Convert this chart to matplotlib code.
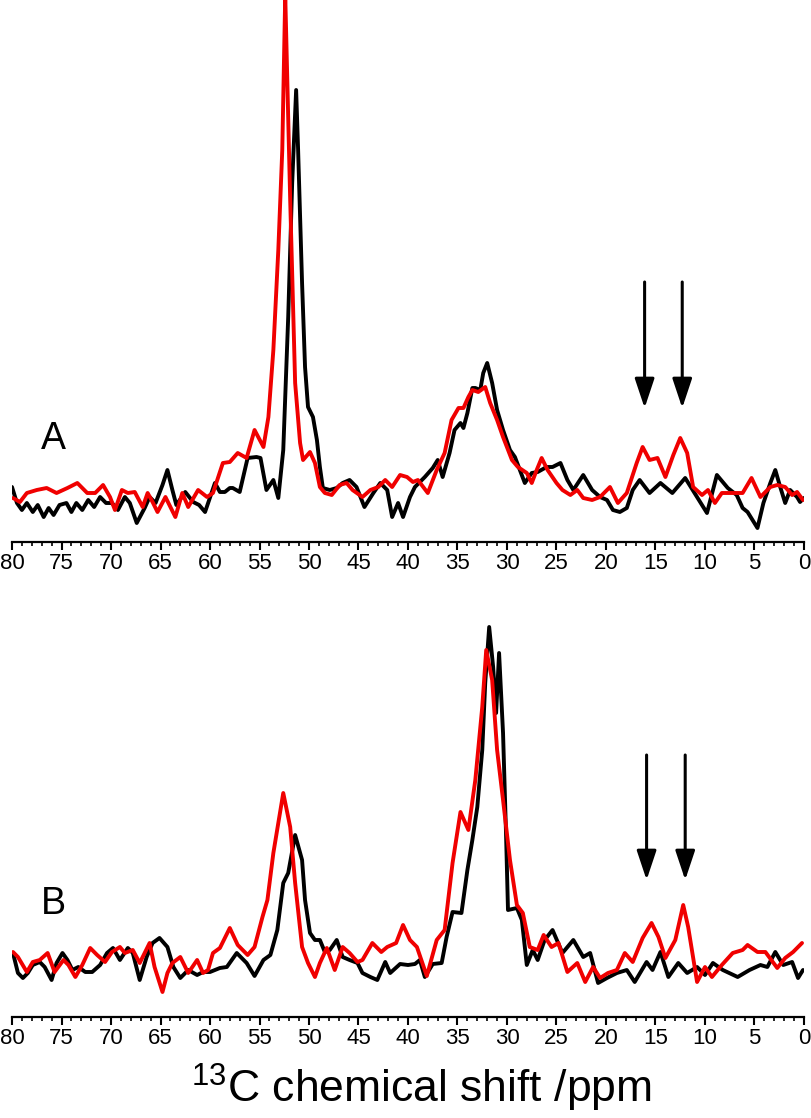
import matplotlib
matplotlib.use('Agg')
import matplotlib.pyplot as plt
from matplotlib.ticker import MultipleLocator
from matplotlib.patches import ArrowStyle

plt.rcParams['font.family'] = ['Liberation Sans', 'DejaVu Sans']
plt.rcParams['mathtext.fontset'] = 'custom'
plt.rcParams['mathtext.rm'] = 'Liberation Sans'
plt.rcParams['mathtext.default'] = 'rm'

# Spectrum A, black trace (ppm, intensity a.u.)
a_black_ppm = [80.0, 79.5, 79.0, 78.5, 77.9, 77.4, 76.8, 76.3, 75.8, 75.2, 74.5, 74.0, 73.5, 72.9,
               72.3, 71.7, 71.1, 70.5, 69.9, 69.3, 68.6, 68.1, 67.4, 66.6, 66.1, 65.5, 64.8, 64.3,
               63.8, 63.4, 62.5, 61.7, 61.1, 60.5, 59.5, 59.0, 58.5, 58.0, 57.7, 57.0, 56.2, 55.3,
               54.9, 54.3, 53.6, 53.1, 52.6, 52.1, 51.7, 51.3, 51.1, 50.7, 50.4, 50.1, 49.6, 49.2,
               48.9, 48.6, 47.9, 47.2, 46.6, 45.9, 45.2, 44.4, 43.5, 42.8, 42.1, 41.6, 41.0, 40.5,
               39.8, 39.3, 38.3, 37.5, 37.0, 36.5, 35.8, 35.3, 34.7, 34.4, 34.0, 33.5, 33.2, 32.7,
               32.4, 32.0, 31.5, 31.0, 30.4, 29.7, 29.2, 28.7, 28.2, 27.5, 26.9, 26.0, 25.4, 24.6,
               23.9, 23.3, 22.3, 21.4, 20.6, 19.9, 19.3, 18.6, 17.9, 17.3, 16.6, 15.6, 14.5, 13.3,
               12.0, 10.8, 9.8, 8.8, 7.7, 6.8, 6.2, 5.7, 4.7, 4.1, 3.4, 2.9, 2.4, 1.9, 1.4, 0.7,
               0.4, 0.0]
a_black_int = [13, -3, -10, -3, -12, -5, -17, -8, -15, -5, -3, -12, -3, -10,
               0, -7, 3, -3, -3, -10, 3, -3, -23, -8, 3, -3, 15, 30,
               10, -5, 8, -2, -5, -12, 17, 8, 8, 12, 12, 8, 42, 43,
               42, 10, 20, 2, 50, 183, 317, 410, 350, 217, 133, 93, 83, 60,
               33, 12, 10, 12, 17, 20, 13, -7, 7, 17, 10, -17, -3, -17,
               3, 13, 23, 32, 40, 23, 47, 70, 77, 72, 87, 112, 112, 110,
               127, 137, 117, 90, 70, 50, 43, 30, 17, 27, 28, 33, 33, 37,
               20, 10, 25, 10, 3, 0, -10, -12, -8, 10, 20, 7, 17, 7,
               22, 3, -13, 25, 12, 5, -8, -12, -28, -3, 17, 30, 13, -3, 10, 3,
               -2, 2]

# Spectrum A, red trace
a_red_ppm = [79.9, 79.2, 78.5, 77.5, 76.5, 75.5, 74.4, 73.4, 72.4, 71.6, 70.8, 70.1, 69.6, 68.9,
             68.3, 67.6, 66.8, 66.3, 65.8, 65.3, 64.5, 63.5, 62.8, 62.2, 61.2, 60.3, 59.7, 58.7,
             58.0, 57.2, 56.3, 55.5, 54.6, 54.1, 53.6, 53.1, 52.7, 52.4, 51.9, 51.4, 50.9, 50.6,
             49.9, 49.4, 48.9, 48.4, 47.7, 46.9, 46.2, 45.6, 44.6, 43.8, 43.0, 42.3, 41.6, 40.8,
             40.1, 39.5, 39.0, 38.0, 37.1, 36.3, 35.6, 34.9, 34.4, 33.9, 33.5, 32.9, 32.2, 31.7,
             31.0, 30.4, 29.5, 28.9, 28.0, 27.5, 27.0, 26.5, 25.9, 25.0, 24.4, 23.6, 22.9, 22.3,
             21.4, 20.6, 19.6, 18.8, 17.9, 16.9, 16.3, 15.6, 14.8, 14.0, 13.2, 12.5, 11.8, 11.2,
             10.3, 9.7, 9.0, 8.3, 7.5, 6.2, 5.3, 4.4, 3.4, 2.7, 1.9, 1.2, 0.7, 0.1]
a_red_int = [2, -2, 7, 10, 12, 7, 12, 17, 7, 7, 15, 3, -10, 10,
             7, 8, -7, 7, -2, -12, 3, -17, 7, -7, 10, 3, 7, 37,
             38, 47, 42, 70, 53, 83, 150, 250, 350, 505, 300, 117, 57, 40,
             48, 37, 13, 7, 5, 15, 17, 10, 3, 10, 13, 20, 13, 25,
             23, 18, 20, 7, 30, 47, 80, 92, 92, 103, 110, 108, 113, 97,
             80, 63, 40, 33, 27, 17, 30, 42, 30, 17, 10, 5, 10, 2,
             0, 3, 13, -3, 7, 37, 53, 40, 42, 23, 45, 62, 47, 13,
             5, 10, -3, 7, 7, 7, 22, 3, 13, 15, 13, 5, 8, 0]

# Spectrum B, black trace
b_black_ppm = [79.9, 79.4, 78.9, 78.4, 77.9, 77.2, 76.7, 76.0, 75.5, 74.9, 74.4, 73.9, 73.3, 72.6,
               71.9, 71.1, 70.4, 69.8, 69.1, 68.3, 67.8, 67.1, 66.4, 65.8, 65.1, 64.3, 63.7, 63.0,
               62.2, 61.3, 60.7, 60.0, 59.0, 58.3, 57.3, 56.3, 55.5, 54.6, 53.9, 53.2, 52.6, 52.1,
               51.4, 50.7, 50.4, 49.9, 49.4, 48.9, 48.4, 47.9, 47.2, 46.6, 45.9, 45.1, 44.6, 43.8,
               43.1, 42.3, 41.8, 40.8, 40.0, 39.3, 38.8, 38.3, 37.5, 36.6, 36.1, 35.5, 34.6, 34.0,
               33.5, 33.0, 32.5, 32.2, 31.8, 31.4, 31.1, 30.8, 30.4, 30.1, 29.9, 29.0, 28.5, 28.0,
               27.4, 26.9, 26.2, 25.4, 24.4, 23.3, 22.3, 21.6, 20.8, 19.9, 18.9, 17.9, 17.1, 15.9,
               15.3, 14.5, 13.7, 12.7, 11.8, 10.8, 10.0, 9.2, 8.2, 6.7, 5.5, 4.4, 3.7, 2.9, 2.1,
               1.2, 0.6, 0.1]
b_black_int = [22, 2, -3, 2, 10, 13, 8, -5, 12, 22, 15, 5, 8, 3,
               3, 10, 22, 27, 15, 27, 22, -5, 18, 32, 37, 28, 8, -3,
               5, 0, 3, 3, 7, 8, 22, 12, -1, 15, 20, 45, 92, 102,
               140, 115, 75, 42, 35, 35, 23, 25, 35, 18, 15, 12, 2, -2,
               -5, 13, 2, 11, 10, 11, 15, -2, 11, 12, 38, 63, 62, 105,
               135, 168, 225, 292, 348, 308, 262, 322, 242, 142, 65, 67, 55, 10,
               25, 15, 35, 45, 22, 35, 18, 22, -8, -3, 2, 5, -7, 13,
               5, 23, -2, 12, 2, 8, 0, 12, 5, -2, 5, 10, 8, 23, 10,
               13, -3, 5]

# Spectrum B, red trace
b_red_ppm = [79.9, 79.4, 78.5, 77.9, 77.2, 76.4, 75.7, 74.8, 74.3, 73.6, 72.9, 72.1, 71.4, 70.6,
             69.9, 69.1, 68.6, 67.8, 67.1, 66.1, 65.6, 64.8, 64.3, 63.8, 63.0, 62.2, 61.3, 60.7,
             60.2, 59.7, 59.0, 58.0, 57.2, 56.2, 55.5, 54.7, 54.2, 53.6, 52.6, 51.9, 51.4, 50.7,
             50.1, 49.4, 48.9, 48.2, 47.4, 46.6, 45.9, 45.1, 44.6, 43.6, 42.7, 42.1, 41.2, 40.5,
             39.8, 39.1, 38.1, 37.1, 36.3, 35.5, 34.7, 33.9, 33.2, 32.5, 32.1, 31.5, 31.0, 30.4,
             29.7, 29.0, 28.4, 27.7, 26.9, 26.3, 25.5, 24.8, 23.9, 22.9, 22.1, 21.3, 20.6, 19.8,
             18.9, 18.1, 17.3, 16.3, 15.4, 14.7, 14.0, 13.0, 12.2, 11.7, 10.8, 10.0, 9.3, 8.3,
             7.2, 6.2, 5.7, 4.7, 3.9, 2.7, 1.9, 1.1, 0.2]
b_red_int = [23, 18, 3, 13, 15, 22, 3, 15, 10, -2, 10, 27, 20, 13,
             23, 28, 22, 25, 12, 32, 8, -17, 2, 12, 18, 2, 15, 2,
             5, 22, 27, 47, 30, 20, 28, 58, 75, 122, 182, 148, 92, 28,
             12, -2, 12, 27, 5, 28, 22, 13, 15, 32, 23, 28, 32, 50,
             35, 28, -1, 35, 45, 112, 163, 145, 195, 268, 325, 295, 225, 175,
             115, 70, 62, 28, 25, 40, 28, 32, 3, 12, -7, 8, -3, 2,
             5, 22, 13, 37, 52, 38, 17, 35, 70, 48, -7, 8, -2, 10,
             22, 25, 30, 23, 23, 7, 17, 23, 32]

# arrows marking the new signals (ppm positions)
a_arrow_ppm = [16.1, 12.3]
b_arrow_ppm = [15.9, 12.0]

fig = plt.figure(figsize=(8.12, 11.18), dpi=100)
ax_a = fig.add_axes([12 / 812, 1 - 542 / 1118, 792 / 812, 542 / 1118])
ax_b = fig.add_axes([12 / 812, 1 - 1017 / 1118, 792 / 812, 457 / 1118])

panels = [
    (ax_a, a_black_ppm, a_black_int, a_red_ppm, a_red_int, a_arrow_ppm, (218, 92), (-42, 500), 'A', 0.19),
    (ax_b, b_black_ppm, b_black_int, b_red_ppm, b_red_int, b_arrow_ppm, (220, 95), (-42, 415), 'B', 0.247),
]

head = ArrowStyle('-|>', head_length=0.9, head_width=0.3)

for ax, bx, by, rx, ry, arr, (y0, y1), ylim, lab, ly in panels:
    ax.plot(bx, by, color='black', lw=2.8, solid_joinstyle='round', solid_capstyle='round')
    ax.plot(rx, ry, color='#f00000', lw=2.8, solid_joinstyle='round', solid_capstyle='round')
    for p in arr:
        ax.annotate('', xy=(p, y1), xytext=(p, y0),
                    arrowprops=dict(arrowstyle=head, mutation_scale=20, lw=2.2,
                                    color='black', shrinkA=0, shrinkB=0))
    ax.text(0.052, ly, lab, transform=ax.transAxes, fontsize=27,
            ha='center', va='center')
    ax.set_xlim(80, 0)
    ax.set_ylim(*ylim)
    ax.xaxis.set_major_locator(MultipleLocator(5))
    ax.xaxis.set_minor_locator(MultipleLocator(1))
    ax.tick_params(axis='x', which='major', direction='out', length=6, width=1.5,
                   labelsize=16, pad=2)
    ax.tick_params(axis='x', which='minor', direction='out', length=3, width=1.2)
    ax.set_yticks([])
    for s in ['top', 'left', 'right']:
        ax.spines[s].set_visible(False)
    ax.spines['bottom'].set_linewidth(1.6)
    ax.patch.set_alpha(0)

fig.text(421 / 812, 1 - 1088 / 1118, r'$^{13}$C chemical shift /ppm', fontsize=32,
         ha='center', va='center')

fig.savefig('out.png', dpi=100)
